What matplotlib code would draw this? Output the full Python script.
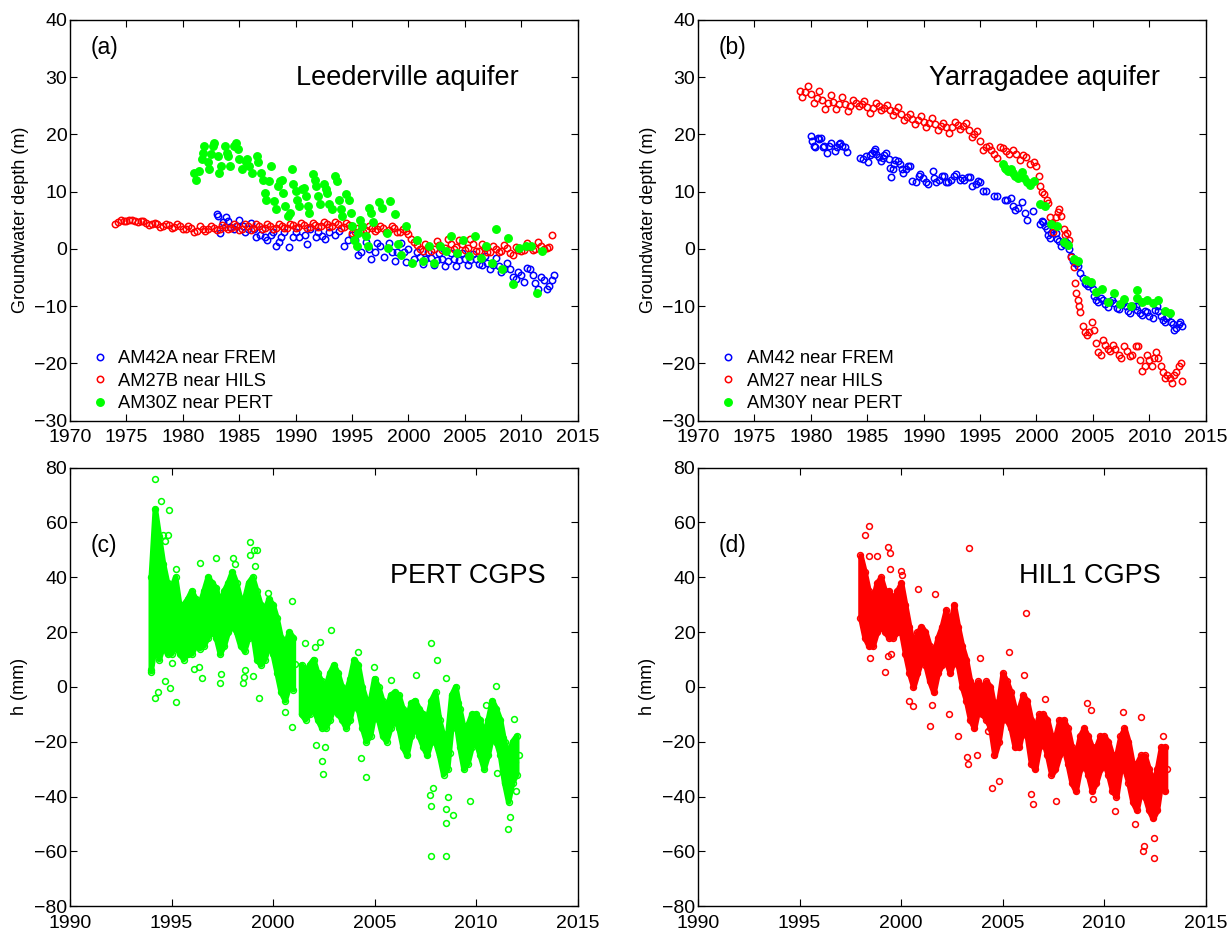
import numpy as np
import matplotlib
matplotlib.use("Agg")
import matplotlib.pyplot as plt

plt.rcParams['font.family'] = ['Liberation Sans', 'DejaVu Sans']

# ---------------- (a) Leederville aquifer ----------------
# AM27B near HILS, quarterly from 1974.0
am27b_start, am27b_step = 1974.0, 0.25
am27b = [4.4, 4.7, 5.0, 4.8,  4.9, 5.0, 5.0, 4.9,  4.6, 4.9, 4.9, 4.5,
         4.2, 4.3, 4.5, 4.3,  3.8, 4.0, 4.4, 4.1,  3.7, 3.8, 4.3, 4.0,
         3.4, 3.5, 4.0, 3.6,  3.0, 3.1, 3.9, 3.5,  3.2, 3.5, 4.0, 3.6,
         3.3, 3.5, 4.2, 3.8,  3.4, 3.6, 4.3, 3.9,  3.3, 3.5, 4.3, 3.9,
         3.3, 3.6, 4.3, 4.0,  3.5, 3.7, 4.4, 4.0,  3.5, 3.6, 4.3, 4.0,
         3.6, 3.7, 4.4, 4.1,  3.6, 3.8, 4.5, 4.1,  3.7, 3.8, 4.5, 4.2,
         3.8, 3.9, 4.6, 4.3,  3.8, 4.0, 4.7, 4.3,  3.6, 3.8, 4.5, 4.1,
         2.8, 3.0, 3.6, 3.2,  3.0, 3.3, 4.0, 3.6,  3.2, 3.4, 3.9, 3.6,
         3.0, 3.3, 3.9, 3.6,  2.9, 3.0, 3.5, 3.1,  2.6, 1.8, 1.2, 0.7,
         0.0, -0.3, 0.8, 0.3, -0.3, 0.0, 1.3, 0.6, -0.2, 0.1, 1.7, 0.8,
         0.0, 0.3, 1.5, 0.8, -0.2, 0.2, 1.8, 0.9, -0.4, -0.3, 0.8, 0.2,
         -0.6, -0.5, 0.5, 0.0, -0.5, -0.4, 0.6, 0.1, -0.8, -1.0, 0.4, -0.2,
         -0.3, -0.2, 1.0, 0.4, -0.2, 0.0, 1.2, 0.5, 0.0, 0.1, 0.4, 2.5]

# AM42A near FREM
am42a_t = [1983.0, 1983.1, 1983.3, 1983.6, 1983.8, 1984.0, 1984.2, 1984.5, 1984.8, 1985.0,
           1985.3, 1985.5, 1985.8, 1986.0, 1986.3, 1986.5, 1986.8, 1987.0, 1987.3, 1987.5,
           1987.8, 1988.0, 1988.3, 1988.5, 1988.7, 1989.0, 1989.4, 1989.8, 1990.0, 1990.3,
           1990.8, 1991.0, 1991.3, 1991.8, 1992.0, 1992.3, 1992.6, 1993.0, 1993.5, 1993.8,
           1994.3, 1994.6, 1995.0, 1995.3, 1995.5, 1995.8, 1996.2, 1996.5, 1996.7, 1997.0,
           1997.2, 1997.5, 1997.8, 1998.3, 1998.5, 1998.8, 1999.0, 1999.3, 1999.6, 1999.8,
           2000.0, 2000.5, 2000.75, 2001.0, 2001.25, 2001.5, 2001.75, 2002.0, 2002.25, 2002.5,
           2002.75, 2003.0, 2003.25, 2003.5, 2003.75, 2004.0, 2004.25, 2004.5, 2004.75, 2005.0,
           2005.25, 2005.5, 2005.75, 2006.0, 2006.25, 2006.5, 2006.75, 2007.0, 2007.25, 2007.5,
           2007.75, 2008.0, 2008.25, 2008.5, 2008.75, 2009.0, 2009.25, 2009.5, 2009.75, 2010.0,
           2010.25, 2010.5, 2010.75, 2011.0, 2011.25, 2011.5, 2011.75, 2012.0, 2012.25, 2012.5,
           2012.75, 2012.9]
am42a_h = [6.0, 5.8, 2.8, 4.6, 5.5, 4.8, 3.8, 3.5, 4.0, 5.0,
           4.0, 3.0, 3.5, 4.5, 3.5, 2.0, 2.5, 3.5, 2.0, 1.5,
           2.5, 3.0, 0.5, 1.2, 2.0, 3.0, 0.3, 2.0, 3.0, 2.0,
           2.5, 0.8, 3.5, 2.0, 3.0, 2.3, 1.8, 3.0, 2.5, 3.2,
           0.5, 1.5, 2.5, 1.5, -1.0, -0.5, 1.2, 0.0, -1.8, -0.5,
           1.0, 0.5, -1.5, 1.0, -0.5, -2.2, -0.5, 1.0, -0.5, -2.3,
           0.0, -1.8, -0.5, -1.5, -2.6, -1.8, -0.6, -1.6, -2.9, -2.0,
           -0.7, -1.7, -3.0, -2.2, -0.8, -1.8, -3.0, -2.0, -0.8, -1.7,
           -2.8, -2.0, -0.9, -1.8, -2.6, -2.8, -1.2, -2.4, -3.6, -2.8,
           -1.6, -3.0, -4.0, -3.5, -2.5, -3.6, -5.0, -5.3, -4.0, -4.5,
           -5.8, -3.3, -3.5, -4.5, -6.0, -7.0, -5.0, -5.5, -7.0, -6.5,
           -5.5, -4.5]

# AM30Z near PERT
am30z_t = [1981.0, 1981.2, 1981.4, 1981.7, 1981.8, 1981.85, 1982.2, 1982.3, 1982.5, 1982.7,
           1982.8, 1983.1, 1983.2, 1983.4, 1983.7, 1983.9, 1984.0, 1984.2, 1984.5, 1984.7,
           1984.9, 1985.0, 1985.2, 1985.6, 1985.7, 1985.9, 1986.1, 1986.6, 1986.7, 1986.9,
           1987.1, 1987.3, 1987.4, 1987.6, 1987.8, 1988.1, 1988.3, 1988.4, 1988.6, 1988.8,
           1988.9, 1989.1, 1989.3, 1989.5, 1989.7, 1989.8, 1990.0, 1990.1, 1990.3, 1990.6,
           1990.7, 1990.9, 1991.1, 1991.2, 1991.5, 1991.7, 1991.8, 1992.0, 1992.2, 1992.5,
           1992.7, 1992.8, 1993.0, 1993.2, 1993.5, 1993.7, 1993.8, 1994.0, 1994.1, 1994.5,
           1994.7, 1994.9, 1995.0, 1995.2, 1995.4, 1995.5, 1995.7, 1995.9, 1996.2, 1996.4,
           1996.5, 1996.7, 1996.9, 1997.4, 1997.7, 1998.1, 1998.2, 1998.4, 1998.8, 1999.1,
           1999.3, 1999.8, 2000.3, 2000.8, 2001.3, 2001.8, 2002.3, 2002.8, 2003.3, 2003.8,
           2004.3, 2004.8, 2005.4, 2005.9, 2006.4, 2006.9, 2007.4, 2007.8, 2008.3, 2008.8,
           2009.3, 2009.8, 2010.4, 2010.9, 2011.4, 2011.8]
am30z_h = [13.3, 12.1, 13.6, 15.6, 16.7, 18.0, 15.1, 13.9, 16.5, 18.0,
           18.5, 16.2, 13.3, 14.5, 18.0, 16.8, 16.2, 14.5, 18.0, 18.5,
           17.4, 15.6, 13.9, 15.1, 15.6, 14.5, 13.3, 16.2, 15.1, 13.3,
           12.1, 9.8, 8.6, 11.8, 14.5, 8.3, 6.9, 11.0, 11.8, 12.1,
           9.8, 7.5, 5.7, 6.3, 13.9, 11.3, 10.1, 8.6, 7.5, 10.4,
           10.7, 9.2, 7.5, 6.3, 13.0, 12.1, 11.0, 9.2, 7.8, 11.3,
           10.4, 9.8, 7.8, 6.9, 12.7, 11.8, 8.6, 6.9, 5.7, 9.5,
           8.6, 6.3, 4.0, 1.6, 0.5, 2.8, 5.1, 4.0, 2.2, 0.5,
           7.2, 6.3, 4.6, 8.1, 7.2, 2.8, 0.2, 8.3, 6.0, 0.8,
           -1.0, 4.0, -2.4, 1.6, -2.2, 0.5, -2.4, 0.5, -0.4, 2.2,
           -0.7, 1.6, -1.3, 2.2, -1.6, 0.5, -2.4, 3.4, -3.6, 1.9,
           -6.2, 0.2, 0.5, 0.5, -7.7, -0.4]

# ---------------- (b) Yarragadee aquifer ----------------
# AM27 near HILS, quarterly 1979.0 - 1996.75, then irregular
am27_start, am27_step = 1979.0, 0.25
am27_q = [27.5, 26.5, 27.3, 28.5,  27.0, 25.5, 26.3, 27.5,  26.0, 24.5, 25.5, 26.8,
          25.6, 24.5, 25.3, 26.5,  25.3, 24.0, 25.0, 26.0,  25.4, 25.0, 25.3, 25.8,
          24.8, 23.8, 24.6, 25.5,  24.9, 24.3, 24.6, 25.2,  24.3, 23.3, 24.0, 24.8,
          23.6, 22.5, 23.0, 23.5,  22.6, 21.8, 22.5, 23.2,  22.2, 21.3, 22.0, 22.8,
          21.8, 20.8, 21.4, 22.0,  21.2, 20.3, 21.2, 22.2,  21.6, 21.0, 21.5, 22.0,
          20.8, 19.5, 20.0, 20.5,  18.9, 17.3, 17.7, 18.0,  17.2, 16.5, 15.8, 17.8]
am27_t = [1997.0, 1997.3, 1997.6, 1997.9, 1998.2, 1998.5, 1998.8, 1999.1, 1999.4, 1999.8,
          2000.0, 2000.2, 2000.3, 2000.5, 2000.7, 2000.9, 2001.0, 2001.2, 2001.4, 2001.5,
          2001.7, 2001.9, 2002.0, 2002.2, 2002.4, 2002.5, 2002.7, 2002.9, 2003.1, 2003.3,
          2003.4, 2003.5, 2003.7, 2003.8, 2003.9, 2004.1, 2004.3, 2004.5, 2004.7, 2004.9,
          2005.1, 2005.3, 2005.5, 2005.7, 2005.9, 2006.1, 2006.3, 2006.5, 2006.8, 2007.0,
          2007.3, 2007.5, 2007.8, 2008.0, 2008.3, 2008.5, 2008.8, 2009.0, 2009.2, 2009.4,
          2009.6, 2009.8, 2010.0, 2010.2, 2010.4, 2010.6, 2010.8, 2011.0, 2011.2, 2011.4,
          2011.6, 2011.8, 2012.0, 2012.2, 2012.4, 2012.6, 2012.8, 2012.9]
am27_h = [17.6, 17.0, 16.5, 17.2, 16.5, 15.5, 16.4, 16.0, 14.8, 15.2,
          14.5, 12.8, 11.0, 10.0, 9.5, 8.5, 8.0, 5.5, 4.5, 3.0,
          5.5, 6.5, 7.0, 5.8, 3.5, 2.5, 2.8, 1.5, -1.5, -3.2,
          -6.0, -7.8, -9.0, -10.0, -11.0, -13.5, -14.5, -15.0, -14.5, -12.8,
          -14.2, -16.5, -18.0, -18.5, -16.0, -16.8, -17.5, -17.8, -16.8, -17.5,
          -18.5, -19.0, -17.0, -17.8, -18.8, -18.5, -17.0, -17.0, -19.5, -21.3,
          -20.5, -18.5, -19.5, -20.5, -19.0, -18.0, -19.0, -20.5, -21.5, -22.5,
          -22.0, -22.5, -23.5, -22.0, -21.5, -20.5, -20.0, -23.0]

# AM42 near FREM
am42_t = [1980.0, 1980.1, 1980.3, 1980.4, 1980.6, 1980.7, 1980.9, 1981.1, 1981.2, 1981.4,
          1981.6, 1981.8, 1982.1, 1982.3, 1982.5, 1982.6, 1982.8, 1983.0, 1983.2,
          1984.4, 1984.6, 1984.9, 1985.1, 1985.2, 1985.4, 1985.6, 1985.7, 1985.8, 1986.0,
          1986.2, 1986.4, 1986.5, 1986.7, 1986.9, 1987.0, 1987.1, 1987.3, 1987.4, 1987.5,
          1987.7, 1987.9, 1988.1, 1988.2, 1988.4, 1988.6, 1988.8, 1989.0, 1989.3, 1989.6,
          1989.7, 1989.9, 1990.2, 1990.4, 1990.8, 1990.9, 1991.1, 1991.4, 1991.6, 1991.8,
          1992.0, 1992.2, 1992.4, 1992.7, 1992.9, 1993.2, 1993.4, 1993.6, 1993.9, 1994.1,
          1994.3, 1994.6, 1994.8, 1995.0, 1995.3, 1995.5, 1996.2, 1996.5, 1997.2, 1997.4,
          1997.7, 1997.9, 1998.1, 1998.4, 1998.7, 1999.0, 1999.2, 1999.7,
          2000.3, 2000.5, 2000.6, 2000.8, 2000.9, 2001.0, 2001.2, 2001.3, 2001.5, 2001.7,
          2001.8, 2002.0, 2002.2, 2002.4, 2002.5, 2002.7, 2002.9, 2003.1, 2003.2, 2003.4,
          2003.6, 2003.7, 2003.9, 2004.1, 2004.3, 2004.4, 2004.6, 2004.8, 2005.0, 2005.1,
          2005.3, 2005.5, 2005.7, 2005.9, 2006.1, 2006.3, 2006.5, 2006.7, 2006.9, 2007.1,
          2007.3, 2007.6, 2007.7, 2007.9, 2008.1, 2008.3, 2008.6, 2008.8, 2008.9, 2009.2,
          2009.4, 2009.6, 2009.8, 2010.0, 2010.3, 2010.5, 2010.7, 2010.8, 2011.0, 2011.2,
          2011.4, 2011.5, 2011.7, 2011.9, 2012.1, 2012.2, 2012.4, 2012.6, 2012.7, 2012.9]
am42_h = [19.7, 18.8, 18.0, 17.7, 19.3, 19.1, 19.3, 17.7, 18.0, 16.8,
          18.0, 18.4, 17.1, 17.7, 18.3, 18.4, 18.0, 17.7, 16.9,
          15.8, 15.6, 16.2, 15.2, 16.3, 16.7, 17.1, 17.5, 16.5, 16.1,
          15.3, 15.8, 16.3, 16.7, 15.6, 14.2, 12.6, 13.9, 14.8, 15.5,
          15.3, 14.8, 13.9, 13.2, 13.9, 14.5, 14.5, 11.8, 11.7, 12.8,
          13.0, 12.4, 11.6, 11.4, 13.6, 12.3, 11.7, 12.1, 12.7, 12.8,
          11.7, 11.7, 12.1, 12.7, 13.0, 12.1, 12.3, 12.1, 12.6, 12.6,
          10.9, 11.3, 11.8, 11.6, 10.1, 10.1, 9.2, 9.2, 8.6, 8.6,
          8.8, 7.5, 6.8, 7.2, 8.1, 6.2, 5.1, 6.6,
          4.3, 4.8, 4.7, 4.0, 3.4, 2.5, 1.9, 2.8, 3.4, 2.8,
          1.8, 1.3, 0.5, 0.8, 1.3, 1.1, 0.0, -1.3, -2.2, -2.5,
          -2.5, -3.0, -4.2, -5.1, -6.0, -6.2, -6.5, -6.2, -7.1, -8.3,
          -8.9, -9.2, -8.6, -8.9, -9.7, -10.2, -9.2, -8.9, -9.5, -10.3,
          -10.5, -9.7, -9.5, -10.0, -10.9, -11.2, -10.0, -9.9, -10.6, -11.2,
          -11.5, -10.9, -11.1, -11.7, -12.1, -10.6, -10.0, -10.9, -11.8, -12.4,
          -12.7, -12.1, -11.8, -12.7, -13.2, -14.1, -13.8, -13.2, -12.8, -13.4]

# AM30Y near PERT
am30y_t = [1997.0, 1997.2, 1997.3, 1997.5, 1997.7, 1997.9, 1998.1, 1998.4, 1998.7, 1998.9,
           1999.2, 1999.4, 1999.8, 2000.3, 2000.8, 2001.3, 2001.8, 2002.4, 2002.8, 2003.3,
           2003.7, 2004.4, 2004.8, 2005.3, 2005.8, 2006.3, 2006.9, 2007.4, 2007.8, 2008.4,
           2008.9, 2008.9, 2009.4, 2009.8, 2010.3, 2010.8, 2011.4, 2011.8]
am30y_h = [14.8, 14.2, 13.9, 13.6, 13.9, 13.3, 12.7, 12.4, 13.4, 12.4,
           11.6, 11.1, 11.8, 7.8, 7.5, 4.3, 4.0, 1.2, 0.6, -1.8,
           -2.2, -5.5, -5.8, -7.6, -7.0, -9.2, -7.7, -9.6, -8.8, -9.9,
           -7.2, -8.6, -9.2, -9.0, -9.5, -9.0, -10.9, -11.2]

# ---------------- (c) PERT CGPS, (d) HIL1 CGPS ----------------
# dense core of the daily cloud: lower / upper edge every 0.2 yr
pert_start, gps_step = 1994.0, 0.2
pert_lo = [6, 15, 10, 15, 12, 12, 15, 12, 10, 12, 12, 15, 14, 15, 18, 20, 18, 12, 15, 20,
           22, 20, 15, 13, 18, 20, 10, 8, 10, 15, 12, 5, -2, -5, 0, -1, np.nan, -10, -12, -10,
           -8, -12, -15, -15, -12, -8, -10, -12, -15, -12, -5, -8, -15, -20, -18, -10, -12, -18, -20, -15,
           -12, -15, -22, -25, -18, -15, -18, -22, -25, -20, -20, -25, -32, -30, -15, -12, -22, -30, -28, -22,
           -20, -25, -30, -25, -18, -20, -25, -35, -42, -35, -32]
pert_hi = [40, 65, 55, 45, 38, 36, 40, 30, 30, 32, 35, 32, 30, 35, 40, 38, 36, 30, 35, 38,
           42, 38, 32, 32, 38, 40, 35, 30, 28, 32, 30, 25, 18, 15, 20, 18, np.nan, 8, 5, 8,
           10, 5, 2, 0, 5, 8, 5, 0, -2, 3, 10, 8, 0, -5, -5, 3, 0, -5, -8, -3,
           -2, -3, -8, -12, -6, -5, -8, -10, -12, -5, -2, -12, -18, -18, -3, 0, -8, -15, -14, -10,
           -10, -12, -18, -12, -5, -8, -12, -20, -25, -20, -18]
pert_out_t = [1994.2, 1994.5, 1994.85, 1994.8, 1994.7, 1994.6, 1994.0, 1994.2, 1994.35, 1994.9,
              1995.2, 1994.7, 1995.0, 1995.2, 1996.1, 1996.35, 1996.5, 1996.4, 1997.2, 1997.4,
              1997.45, 1998.05, 1998.1, 1998.5, 1998.55, 1998.6, 1998.85, 1998.85, 1999.05, 1999.2,
              1999.0, 1999.3, 1999.1, 1999.75, 2000.6, 2000.95, 2000.95, 2001.55, 2002.05, 2002.3,
              2002.85, 2002.1, 2002.4, 2002.45, 2002.55, 2004.2, 2004.35, 2004.6, 2004.95, 2005.8,
              2007.05, 2007.8, 2007.75, 2007.8, 2007.8, 2007.9, 2008.05, 2008.5, 2008.5, 2008.5,
              2008.6, 2008.85, 2008.5, 2009.7, 2010.5, 2011.0, 2011.05, 2011.65, 2011.55, 2011.95,
              2011.85]
pert_out_h = [76, 68, 64.4, 55.3, 53.3, 55.3, 5.3, -4, -2, -0.3,
              -5.6, 2, 8.7, 43, 6.7, 7.3, 3.3, 45.3, 47, 1.3,
              4.7, 47, 44.7, 1.3, 3.6, 6.3, 53, 48, 50, 50,
              4, -4, 44, 34.3, -9.3, 31.3, -14.7, 16, 14.7, 16.4,
              20.7, -21.3, -27.1, -31.6, -22, 12.7, -26, -33, 7.3, 2.4,
              4.4, 16, -39.3, -43.3, -61.7, -36.7, 10, -44.7, -49.7, -61.7,
              -40, -46.9, 3.3, -41.6, -6.7, 0.4, -31.3, -47.3, -51.7, -38,
              -11.6]

hil1_start = 1998.0
hil1_lo = [25, 18, 15, 15, 20, 22, 20, 18, 18, 20, 20, 12, 5, 0, 5, 10, 8, 2, -2, 5,
           8, 10, 5, 10, 8, 0, -5, -12, -15, -8, -10, -12, -15, -25, -20, -10, -12, -15, -22, -22,
           -15, -18, -28, -30, -22, -20, -25, -32, -30, -25, -22, -28, -35, -38, -30, -28, -32, -38, -35, -30,
           -28, -32, -38, -40, -30, -30, -35, -42, -45, -38, -40, -45, -48, -45, -35, -38]
hil1_hi = [48, 42, 35, 32, 38, 40, 35, 35, 32, 35, 38, 30, 22, 15, 20, 22, 20, 15, 12, 18,
           22, 28, 22, 30, 22, 15, 10, 2, 0, 2, 0, 2, 0, -8, -5, 5, 2, -2, -8, -8,
           -3, -5, -12, -15, -10, -10, -12, -18, -18, -12, -12, -15, -22, -25, -18, -15, -18, -22, -22, -18,
           -18, -20, -25, -25, -18, -15, -20, -28, -28, -25, -25, -30, -35, -30, -22, -22]
hil1_out_t = [1998.2, 1998.4, 1998.4, 1998.8, 1999.2, 1999.35, 1999.45, 1999.45, 1998.45, 1999.35,
              1999.5, 2000.0, 2000.05, 2000.85, 2001.65, 2000.4, 2000.6, 2001.4, 2001.5, 2002.35,
              2003.35, 2002.8, 2003.3, 2003.25, 2003.75, 2003.9, 2004.3, 2004.5, 2004.8, 2005.3,
              2006.15, 2006.05, 2006.4, 2006.5, 2007.1, 2007.65, 2009.15, 2009.35, 2009.45, 2010.55,
              2010.95, 2011.8, 2011.9, 2011.95, 2012.45, 2012.45, 2011.5, 2012.9]
hil1_out_h = [55.6, 58.7, 47.7, 47.7, 5.3, 51, 48.7, 43, 10.7, 11.3,
              12, 42.3, 40.7, 35.6, 34, -5.3, -6.9, -14.4, -6.7, -9.7,
              50.7, -18, -28, -25.7, -25, 10.7, -16, -37, -34.4, 12.7,
              27, 4.3, -39, -42.8, -4.4, -41.7, -6, -8.4, -41, -45.3,
              -9.3, -11, -60, -58, -62.3, -55, -50, -18]

BLUE, RED, GREEN = (0, 0, 1), (1, 0, 0), (0, 1, 0)
FS = 14


def style(ax, xt, yt, xpad=6):
    ax.set_xlim(xt[0], xt[-1])
    ax.set_ylim(yt[0], yt[-1])
    ax.set_xticks(xt)
    ax.set_yticks(yt)
    ax.set_yticklabels([str(v).replace('-', '\u2212') for v in yt])
    ax.tick_params(direction='in', top=True, right=True, length=5, width=0.8,
                   labelsize=FS)
    ax.tick_params(axis='y', pad=2)
    ax.tick_params(axis='x', pad=xpad)
    for s in ax.spines.values():
        s.set_linewidth(1.0)


def open_pts(ax, t, h, c, label=None, ms=4.6):
    ax.plot(t, h, 'o', mfc='none', mec=c, mew=1.1, ms=ms, ls='none', label=label)


def dots(ax, t, h, c, label=None):
    ax.plot(t, h, 'o', mfc=c, mec=c, ms=5.4, ls='none', label=label)


fig = plt.figure(figsize=(12.29, 9.41), dpi=100)
W = 0.413
ax_a = fig.add_axes([0.057, 0.553, W, 0.426])
ax_b = fig.add_axes([0.568, 0.553, W, 0.426])
ax_c = fig.add_axes([0.057, 0.037, W, 0.466])
ax_d = fig.add_axes([0.568, 0.037, W, 0.466])

# (a)
t27b = am27b_start + am27b_step * np.arange(len(am27b))
open_pts(ax_a, am42a_t, am42a_h, BLUE, 'AM42A near FREM')
open_pts(ax_a, t27b, am27b, RED, 'AM27B near HILS')
dots(ax_a, am30z_t, am30z_h, GREEN, 'AM30Z near PERT')
style(ax_a, np.arange(1970, 2016, 5), np.arange(-30, 41, 10))
ax_a.set_ylabel('Groundwater depth (m)', fontsize=13)
ax_a.text(0.04, 0.93, '(a)', transform=ax_a.transAxes, fontsize=16.5, va='center')
ax_a.text(0.884, 0.855, 'Leederville aquifer', transform=ax_a.transAxes, fontsize=19.5,
          ha='right', va='center')

# (b)
t27 = am27_start + am27_step * np.arange(len(am27_q))
open_pts(ax_b, am42_t, am42_h, BLUE, 'AM42 near FREM')
open_pts(ax_b, np.r_[t27, am27_t], np.r_[am27_q, am27_h], RED, 'AM27 near HILS')
dots(ax_b, am30y_t, am30y_h, GREEN, 'AM30Y near PERT')
style(ax_b, np.arange(1970, 2016, 5), np.arange(-30, 41, 10))
ax_b.set_ylabel('Groundwater depth (m)', fontsize=13)
ax_b.text(0.04, 0.93, '(b)', transform=ax_b.transAxes, fontsize=16.5, va='center')
ax_b.text(0.911, 0.855, 'Yarragadee aquifer', transform=ax_b.transAxes, fontsize=19.5,
          ha='right', va='center')

for ax in (ax_a, ax_b):
    ax.legend(loc='lower left', frameon=False, fontsize=13.2, handlelength=1.0,
              handletextpad=0.5, labelspacing=0.3, borderaxespad=0.05,
              bbox_to_anchor=(0.025, 0.0))

# (c), (d)
for ax, t0, lo, hi, ot, oh, c in [
        (ax_c, pert_start, pert_lo, pert_hi, pert_out_t, pert_out_h, GREEN),
        (ax_d, hil1_start, hil1_lo, hil1_hi, hil1_out_t, hil1_out_h, RED)]:
    lo = np.array(lo, float)
    hi = np.array(hi, float)
    t = t0 + gps_step * np.arange(len(lo))
    ax.fill_between(t, lo, hi, color=c, lw=4.0, ec=c)
    open_pts(ax, t, lo, c, ms=4.2)
    open_pts(ax, t, hi, c, ms=4.2)
    open_pts(ax, t + 0.1, (lo + hi) / 2, c, ms=4.2)
    open_pts(ax, ot, oh, c, ms=4.2)
    style(ax, np.arange(1990, 2016, 5), np.arange(-80, 81, 20), xpad=6)
    ax.set_ylabel('h (mm)', fontsize=13)

ax_c.text(0.04, 0.823, '(c)', transform=ax_c.transAxes, fontsize=16.5, va='center')
ax_c.text(0.937, 0.752, 'PERT CGPS', transform=ax_c.transAxes, fontsize=19.5,
          ha='right', va='center')
ax_d.text(0.04, 0.823, '(d)', transform=ax_d.transAxes, fontsize=16.5, va='center')
ax_d.text(0.911, 0.752, 'HIL1 CGPS', transform=ax_d.transAxes, fontsize=19.5,
          ha='right', va='center')

fig.savefig('out.png', dpi=100)
